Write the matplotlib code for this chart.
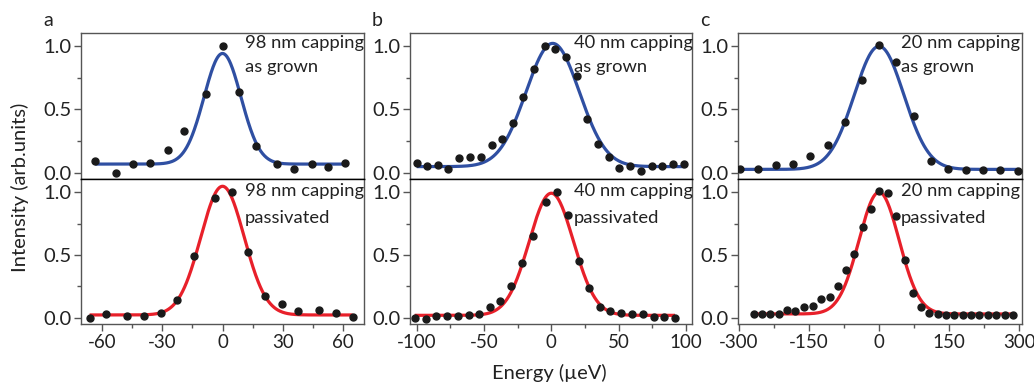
import numpy as np
import matplotlib.pyplot as plt
from matplotlib.ticker import MultipleLocator

plt.rcParams['font.family'] = ['Lato', 'DejaVu Sans']

# --- panel a : 98 nm capping ---
a_grown_x = [-63.4, -52.9, -44.4, -35.9, -27.4, -19.1, -8.3, 0.0, 8.3, 16.6, 27.4, 35.7, 44.4, 52.7, 61.2]
a_grown_y = [0.093, 0.0, 0.066, 0.074, 0.177, 0.33, 0.62, 1.0, 0.64, 0.21, 0.066, 0.03, 0.066, 0.048, 0.08]
a_pass_x = [-66.2, -57.9, -47.4, -39.3, -30.8, -22.5, -14.2, -3.8, 4.5, 12.8, 21.1, 29.4, 37.7, 48.2, 56.5, 64.8]
a_pass_y = [0.0, 0.026, 0.016, 0.016, 0.035, 0.14, 0.49, 0.95, 1.0, 0.52, 0.17, 0.106, 0.05, 0.06, 0.035, 0.003]

# --- panel b : 40 nm capping ---
b_grown_x = [-100, -92.1, -84.4, -76.6, -68.4, -60.3, -52.4, -44.4, -36.6, -28.7, -20.7, -12.9, -5.0,
             3.0, 11.1, 19.0, 26.7, 34.5, 42.7, 50.6, 58.5, 66.7, 74.5, 82.4, 90.4, 98.2]
b_grown_y = [0.079, 0.055, 0.058, 0.027, 0.114, 0.127, 0.127, 0.217, 0.264, 0.396, 0.60, 0.82, 1.005,
             0.98, 0.918, 0.765, 0.427, 0.224, 0.122, 0.040, 0.055, 0.016, 0.055, 0.05, 0.066, 0.066]
b_pass_x = [-101.5, -93.3, -85.5, -77.6, -69.4, -61.5, -53.6, -45.5, -37.8, -29.9, -22.0, -13.9, -3.7,
            4.2, 12.3, 20.2, 27.9, 36.0, 43.9, 52.1, 60.0, 67.9, 76.0, 83.9, 91.9]
b_pass_y = [0.0, -0.008, 0.011, 0.011, 0.011, 0.019, 0.029, 0.087, 0.135, 0.249, 0.432, 0.651, 0.918,
            1.0, 0.82, 0.455, 0.238, 0.087, 0.05, 0.035, 0.029, 0.029, 0.005, 0.005, -0.005]

# --- panel c : 20 nm capping ---
c_grown_x = [-296.8, -258.8, -221.5, -184.3, -146.9, -110.3, -73.8, -35.8, 0.7, 36.6, 75.3, 111.8,
             147.7, 186.4, 222.2, 259.6, 297.5]
c_grown_y = [0.032, 0.032, 0.058, 0.066, 0.134, 0.222, 0.399, 0.736, 1.008, 0.878, 0.449, 0.095,
             0.029, 0.021, 0.021, 0.021, 0.016]
c_pass_x = [-268.8, -250.9, -232.9, -215.1, -197.2, -179.1, -161.3, -141.9, -124.1, -106.0, -88.2, -71.0,
            -53.0, -35.1, -17.2, 0.7, 18.7, 36.6, 55.3, 72.5, 89.7, 107.5, 125.4, 143.4, 161.3, 179.1,
            197.0, 215.0, 232.9, 250.8, 268.8, 286.7]
c_pass_y = [0.027, 0.027, 0.027, 0.032, 0.061, 0.056, 0.082, 0.093, 0.148, 0.167, 0.252, 0.379,
            0.506, 0.722, 0.868, 1.006, 0.99, 0.807, 0.46, 0.196, 0.082, 0.04, 0.029, 0.024, 0.024, 0.024,
            0.024, 0.024, 0.024, 0.024, 0.024, 0.024]

# gaussian fit parameters: (baseline, amplitude, centre, sigma)
a_grown_fit = (0.068, 0.875, 0.0, 9.2)
a_pass_fit = (0.022, 1.025, 0.0, 10.8)
b_grown_fit = (0.048, 0.975, 1.0, 19.8)
b_pass_fit = (0.019, 0.973, 0.0, 16.4)
c_grown_fit = (0.026, 0.974, 0.0, 53.0)
c_pass_fit = (0.03, 0.97, 0.0, 42.9)

panel_labels = ['a', 'b', 'c']
cap_labels = ['98 nm capping', '40 nm capping', '20 nm capping']
xlims = [(-70.5, 70.5), (-105, 104.5), (-302, 306)]
xmajor = [30, 50, 150]
xminor = [15, 25, 75]

blue = '#2f4fa2'
red = '#e8202a'
txt = '#222222'


def gauss(x, fit):
    y0, amp, xc, s = fit
    return y0 + amp * np.exp(-(x - xc) ** 2 / (2 * s ** 2))


def style_ax(ax, i, bottom):
    ax.set_xlim(*xlims[i])
    ax.set_ylim(-0.05, 1.105)
    ax.yaxis.set_major_locator(MultipleLocator(0.5))
    ax.yaxis.set_minor_locator(MultipleLocator(0.25))
    ax.xaxis.set_major_locator(MultipleLocator(xmajor[i]))
    ax.xaxis.set_minor_locator(MultipleLocator(xminor[i]))
    ax.tick_params(axis='y', which='major', direction='out', length=5, width=1, color='#555555',
                   labelsize=14.5, labelcolor=txt, pad=2)
    ax.tick_params(axis='y', which='minor', direction='out', length=3, width=1, color='#555555')
    ax.yaxis.set_major_formatter(plt.FuncFormatter(lambda v, p: f'{v:.1f}'))
    if bottom:
        ax.tick_params(axis='x', which='major', direction='out', length=5, width=1, color='#555555',
                       labelsize=13.5, labelcolor=txt, pad=2)
        ax.tick_params(axis='x', which='minor', direction='out', length=3, width=1, color='#555555')
        ax.xaxis.set_major_formatter(plt.FuncFormatter(lambda v, p: f'{v:.0f}'))
    else:
        ax.tick_params(axis='x', which='both', bottom=False, labelbottom=False)
    for sp in ax.spines.values():
        sp.set_color('#555555')
        sp.set_linewidth(1.0)
    if bottom:
        ax.spines['top'].set_color('black')
    else:
        ax.spines['bottom'].set_color('black')


fig = plt.figure(figsize=(10.34, 3.86), dpi=100)
lefts = [81, 410, 738]
widths = [283, 282, 284]

grown = [(a_grown_x, a_grown_y, a_grown_fit), (b_grown_x, b_grown_y, b_grown_fit), (c_grown_x, c_grown_y, c_grown_fit)]
passd = [(a_pass_x, a_pass_y, a_pass_fit), (b_pass_x, b_pass_y, b_pass_fit), (c_pass_x, c_pass_y, c_pass_fit)]

for i in range(3):
    l = lefts[i] / 1034
    w = widths[i] / 1034
    ax_t = fig.add_axes([l, 1 - 179 / 386, w, 146 / 386])
    ax_b = fig.add_axes([l, 1 - 324 / 386, w, 145 / 386])

    for ax, (xs, ys, fit), col, state, bottom in [(ax_t, grown[i], blue, 'as grown', False),
                                                   (ax_b, passd[i], red, 'passivated', True)]:
        style_ax(ax, i, bottom)
        xx = np.linspace(min(xs), max(xs), 400)
        ax.plot(xx, gauss(xx, fit), color=col, lw=2.3, zorder=2, solid_capstyle='butt')
        ax.plot(xs, ys, 'o', color='#1a1a1a', ms=5, zorder=3)
        tx = 0.58 if i < 2 else 0.574
        if bottom:
            y1, y2 = 0.885, 0.70
        else:
            y1, y2 = 0.897, 0.735
        ax.text(tx, y1, cap_labels[i], transform=ax.transAxes, fontsize=13.2, color=txt, va='baseline')
        ax.text(tx, y2, state, transform=ax.transAxes, fontsize=13.2, color=txt, va='baseline')

    fig.text((lefts[i] - 33) / 1034, 1 - 20 / 386, panel_labels[i], fontsize=14, color=txt,
             ha='center', va='center')

fig.text(20 / 1034, 1 - 187 / 386, 'Intensity (arb.units)', rotation=90, fontsize=14.5, color=txt,
         ha='center', va='center')
fig.text(549 / 1034, 1 - 373 / 386, 'Energy (µeV)', fontsize=14.5, color=txt, ha='center', va='center')

fig.savefig('out.png', dpi=100)
